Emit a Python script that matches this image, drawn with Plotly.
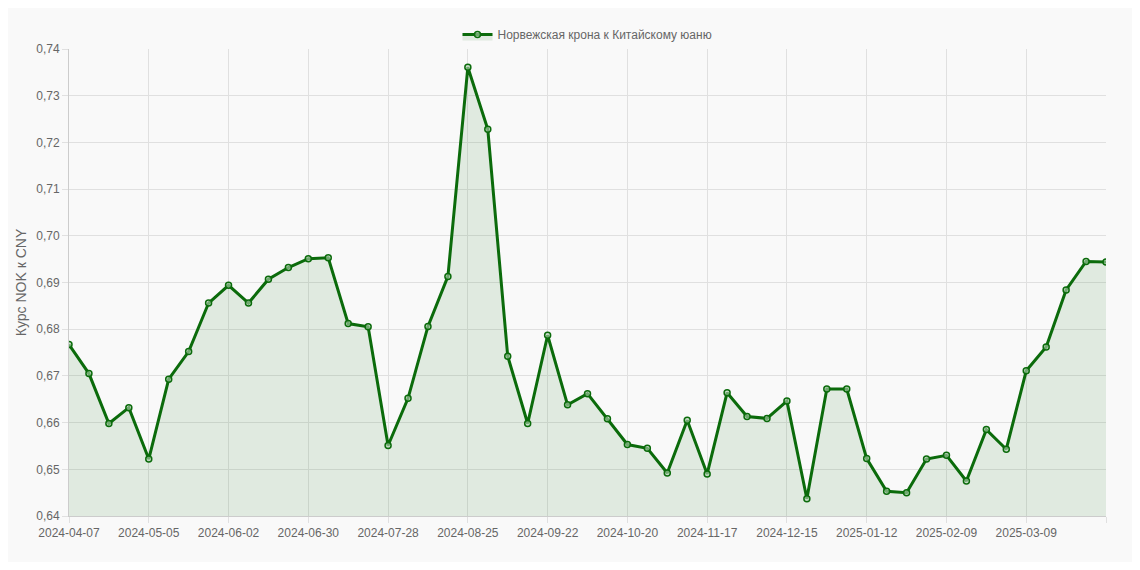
import pandas as pd
import plotly.graph_objects as go

dates = [d.strftime("%Y-%m-%d") for d in pd.date_range("2024-04-07", periods=52, freq="7D")] + ["2025-03-31"]
rates = [0.6767, 0.6705, 0.6598, 0.6632, 0.6522, 0.6693, 0.6752, 0.6856,
         0.6894, 0.6856, 0.6907, 0.6932, 0.6951, 0.6953, 0.6812, 0.6805,
         0.6551, 0.6652, 0.6806, 0.6913, 0.7361, 0.7228, 0.6742, 0.6598,
         0.6787, 0.6638, 0.6662, 0.6608, 0.6553, 0.6545, 0.6492, 0.6605,
         0.6490, 0.6664, 0.6613, 0.6609, 0.6646, 0.6437, 0.6672, 0.6672,
         0.6523, 0.6453, 0.6450, 0.6522, 0.6530, 0.6475, 0.6585, 0.6543,
         0.6711, 0.6762, 0.6884, 0.6945, 0.6944]
tick_idx = list(range(0, 49, 4)) + [52]
tick_labels = [dates[i] for i in tick_idx]
y_ticks = [0.64, 0.65, 0.66, 0.67, 0.68, 0.69, 0.70, 0.71, 0.72, 0.73, 0.74]

green = "#0b6b0b"
fig = go.Figure()
fig.add_trace(go.Scatter(
    x=list(range(len(dates))), y=rates, mode="lines+markers",
    name="Норвежская крона к Китайскому юаню",
    line=dict(color=green, width=3),
    marker=dict(size=6, color="rgba(180,210,180,0.6)", line=dict(color=green, width=1.5)),
    fill="tozeroy", fillcolor="rgba(11,107,11,0.1)",
))

fig.update_layout(
    width=1124, height=554,
    paper_bgcolor="#f9f9f9", plot_bgcolor="#f9f9f9",
    margin=dict(l=54, r=26, t=23, b=46),
    font=dict(family="Arial, Liberation Sans", size=12, color="#666"),
    separators=", ",
    showlegend=True,
    legend=dict(orientation="h", x=0.5, xanchor="center", y=1.0, yanchor="bottom", font=dict(size=12)),
    xaxis=dict(range=[0, len(dates) - 1], tickvals=tick_idx, ticktext=tick_labels,
               showgrid=True, gridcolor="#e0e0e0", linecolor="#ccc", showline=True,
               ticks="outside", tickcolor="#e0e0e0", ticklen=6, zeroline=False),
    yaxis=dict(range=[0.64, 0.74], tickvals=y_ticks, tickformat=".2f",
               title=dict(text="Курс NOK к CNY", standoff=6), showgrid=True, gridcolor="#e0e0e0",
               linecolor="#ccc", showline=True, ticks="outside", tickcolor="#e0e0e0", ticklen=6,
               zeroline=False),
)
fig.write_html("out.html")
